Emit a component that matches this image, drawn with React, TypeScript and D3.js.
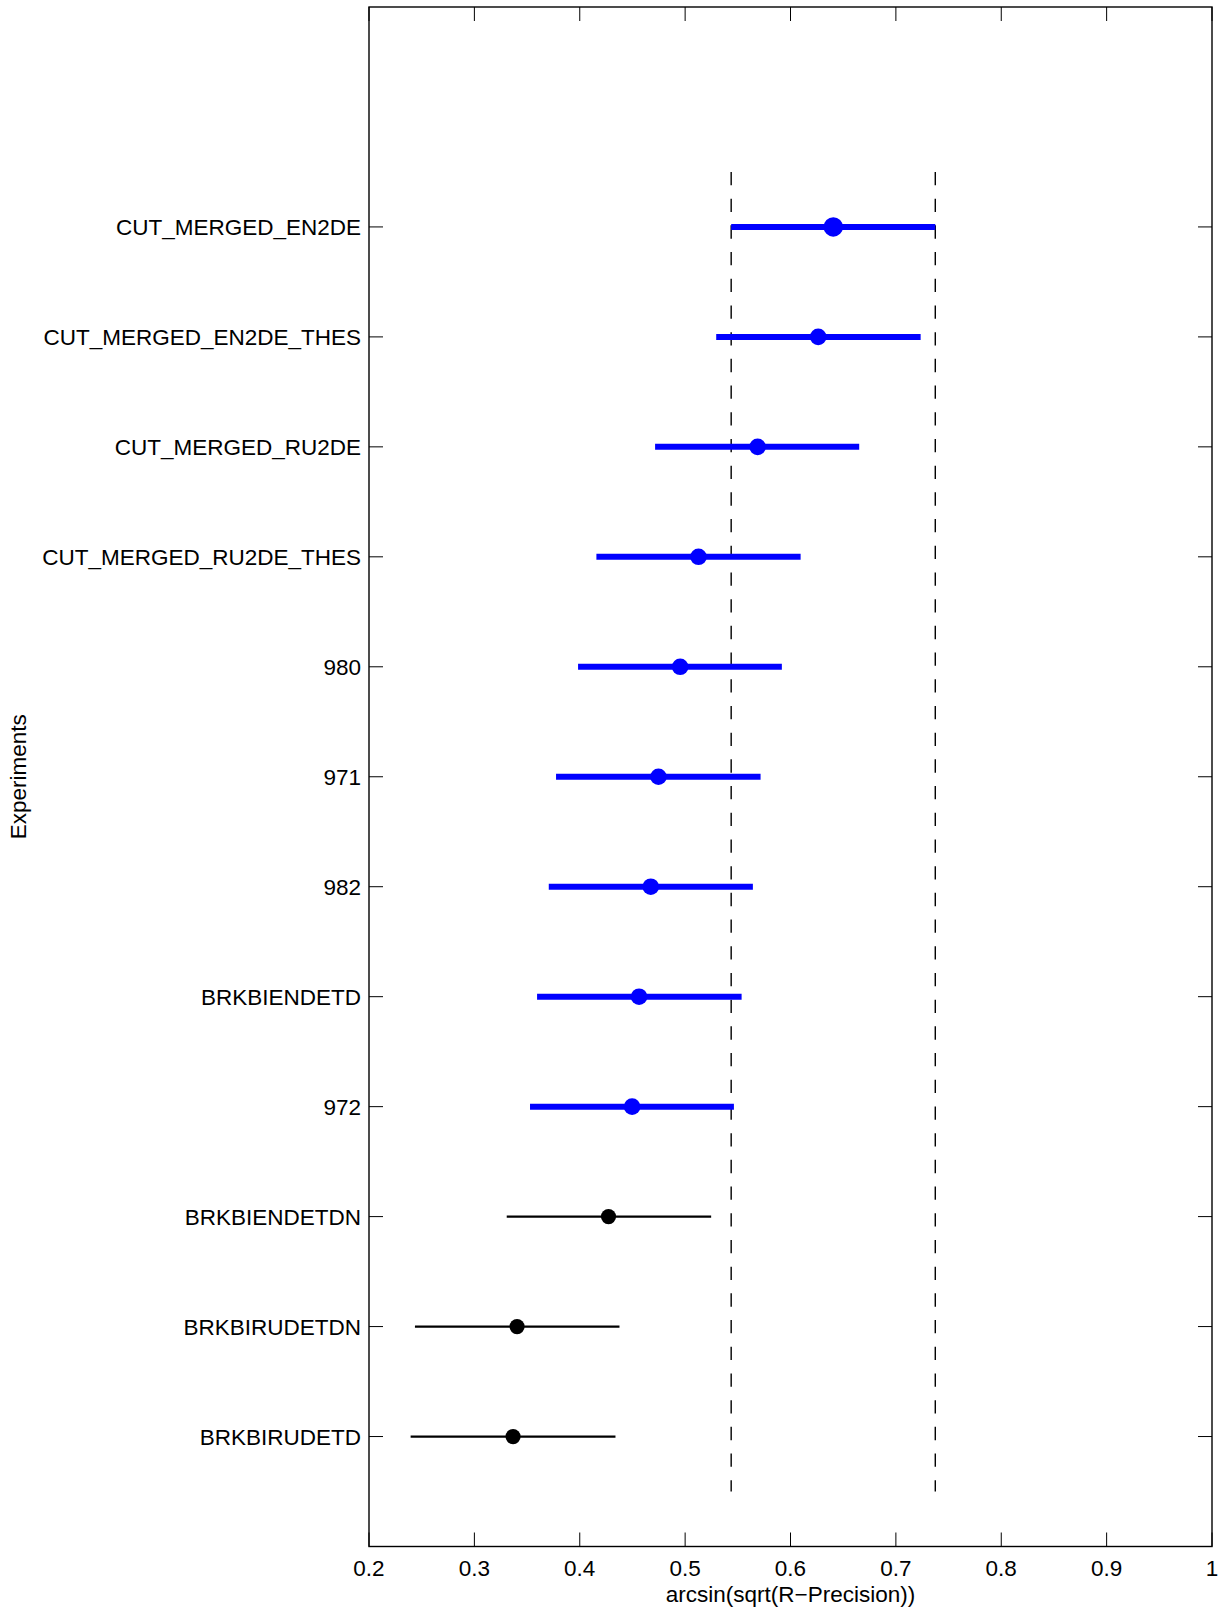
import React from "react";
import * as d3 from "d3";

const categories = [
  "CUT_MERGED_EN2DE",
  "CUT_MERGED_EN2DE_THES",
  "CUT_MERGED_RU2DE",
  "CUT_MERGED_RU2DE_THES",
  "980",
  "971",
  "982",
  "BRKBIENDETD",
  "972",
  "BRKBIENDETDN",
  "BRKBIRUDETDN",
  "BRKBIRUDETD",
];
const means = [0.6406, 0.6263, 0.5688, 0.5127, 0.4953, 0.4747, 0.4674, 0.4563, 0.4497, 0.4273, 0.3405, 0.3367];
const lower = [0.5437, 0.5295, 0.4715, 0.4158, 0.3984, 0.3775, 0.3706, 0.3595, 0.3528, 0.3307, 0.2436, 0.2395];
const upper = [0.7374, 0.7235, 0.6652, 0.6096, 0.5918, 0.5716, 0.5643, 0.5536, 0.5463, 0.5247, 0.4377, 0.4339];
// groups significantly different from the selected one are drawn in blue
const highlighted = [true, true, true, true, true, true, true, true, true, false, false, false];
const selectedIndex = 0;
const xTicks = [0.2, 0.3, 0.4, 0.5, 0.6, 0.7, 0.8, 0.9, 1];
const xLabel = "arcsin(sqrt(R\u2212Precision))";
const yLabel = "Experiments";

const W = 1223;
const H = 1610;
const left = 369;
const right = 1212;
const top = 7;
const bottom = 1546.5;
const font = "'Liberation Sans', Arial, Helvetica, sans-serif";
const fs = 22.5;
const tickLen = 14;

export default function App() {
  const n = categories.length;
  const x = d3.scaleLinear().domain([0.2, 1]).range([left, right]);
  const y = d3.scaleLinear().domain([0, n + 2]).range([bottom, top]);
  const yPos = (i: number) => y(n - i);
  const refLo = lower[selectedIndex];
  const refHi = upper[selectedIndex];

  return (
    <svg width={W} height={H} style={{ position: "absolute", left: 0, top: 0, background: "#fff" }}>
      <rect x={0} y={0} width={W} height={H} fill="#fff" />
      {/* reference dashed lines */}
      {[refLo, refHi].map((v, k) => (
        <line
          key={"ref" + k}
          x1={x(v)}
          x2={x(v)}
          y1={y(n + 0.5)}
          y2={y(0.5)}
          stroke="#000"
          strokeWidth={1.4}
          strokeDasharray="13.3,13.4"
        />
      ))}
      {/* intervals */}
      {categories.map((c, i) => {
        const col = highlighted[i] ? "#0000ff" : "#000";
        const lw = highlighted[i] ? 6 : 2.2;
        const r = i === selectedIndex ? 9.7 : highlighted[i] ? 8.3 : 7.6;
        return (
          <g key={c}>
            <line x1={x(lower[i])} x2={x(upper[i])} y1={yPos(i)} y2={yPos(i)} stroke={col} strokeWidth={lw} />
            <circle cx={x(means[i])} cy={yPos(i)} r={r} fill={col} />
          </g>
        );
      })}
      {/* axes box */}
      <rect x={left} y={top} width={right - left} height={bottom - top} fill="none" stroke="#000" strokeWidth={1.4} />
      {/* x ticks */}
      {xTicks.map((t) => (
        <g key={"xt" + t}>
          <line x1={x(t)} x2={x(t)} y1={bottom} y2={bottom - tickLen} stroke="#000" strokeWidth={1} />
          <line x1={x(t)} x2={x(t)} y1={top} y2={top + tickLen} stroke="#000" strokeWidth={1} />
          <text x={x(t)} y={1576} textAnchor="middle" fontFamily={font} fontSize={fs} fill="#000">
            {String(t)}
          </text>
        </g>
      ))}
      {/* y ticks */}
      {categories.map((c, i) => (
        <g key={"yt" + c}>
          <line x1={left} x2={left + tickLen} y1={yPos(i)} y2={yPos(i)} stroke="#000" strokeWidth={1} />
          <line x1={right} x2={right - tickLen} y1={yPos(i)} y2={yPos(i)} stroke="#000" strokeWidth={1} />
          <text x={361} y={yPos(i)} dy="0.36em" textAnchor="end" fontFamily={font} fontSize={fs} fill="#000">
            {c}
          </text>
        </g>
      ))}
      <text x={(left + right) / 2} y={1602} textAnchor="middle" fontFamily={font} fontSize={fs} fill="#000">
        {xLabel}
      </text>
      <text
        transform={`translate(26,${(top + bottom) / 2}) rotate(-90)`}
        textAnchor="middle"
        fontFamily={font}
        fontSize={fs}
        fill="#000"
      >
        {yLabel}
      </text>
    </svg>
  );
}
